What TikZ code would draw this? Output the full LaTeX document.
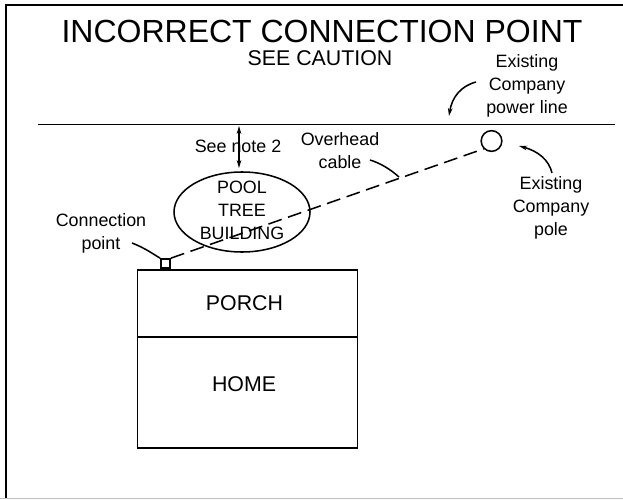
\documentclass[tikz,border=0pt]{standalone}
\usepackage{fontspec}
\setmainfont{Liberation Sans}
\usetikzlibrary{arrows.meta,shapes.geometric}
\tikzset{
  x=0.75pt,y=-0.75pt,
  ln/.style={draw=black,line width=1.15pt},
  thin ln/.style={draw=black,line width=0.9pt},
  lbl/.style={inner sep=0pt,align=center,font=\fontsize{13.4pt}{17.2pt}\selectfont,text=black},
  big/.style={inner sep=0pt,font=\fontsize{24pt}{26pt}\selectfont,text=black},
  mid/.style={inner sep=0pt,font=\fontsize{16pt}{18pt}\selectfont,text=black},
  tip/.style={-{Stealth[length=6pt,width=3.5pt]}},
  room/.style={ln,rectangle,inner sep=0pt,minimum width=165pt,anchor=north west},
}
\begin{document}
\begin{tikzpicture}
\useasboundingbox (0,0) rectangle (623,499);
\draw[line width=1.4pt] (6,499) -- (6,5) -- (623,5);
\draw[draw=black!25,line width=1pt] (0,498.5) -- (623,498.5);
\node[big] (title) at (322,31) {INCORRECT CONNECTION POINT};
\node[mid] (sub) at (320,58) {SEE CAUTION};
\coordinate (lineL) at (38,124.5);
\coordinate (lineR) at (615,124.5);
\draw[ln] (lineL) -- (lineR);
\node[lbl] (plabel) at (527,86) {Existing\\Company\\power line};
\node[lbl] (note) at (238,146) {See note 2};
\node[lbl] (ocable) at (340,151) {Overhead\\cable};
\node[lbl] (conn) at (101,233) {Connection\\point};
\node[lbl] (polelbl) at (551,208) {Existing\\Company\\pole};
\node[ellipse,ln,minimum width=102pt,minimum height=60pt,inner sep=0pt] (obst) at (242,212) {};
\node[lbl] (pool) at (242,210) {POOL\\TREE\\BUILDING};
\node[room,minimum height=50pt] (porch) at (136.5,269) {};
\node[room,minimum height=83.5pt] (home) at (136.5,336) {};
\node[mid] at (244.5,303) {PORCH};
\node[mid] at (244,384) {HOME};
\node[circle,ln,minimum size=15.5pt,inner sep=0pt] (pole) at (491.5,141) {};
\node[rectangle,ln,minimum size=7pt,inner sep=0pt,anchor=south] (cp) at (165.5,269) {};
\draw[ln,dash pattern=on 10.5pt off 5pt] (cp.north east) -- (pole.south west);
\coordinate (ntop) at (239,126);
\coordinate (nbot) at (239,168);
\draw[thin ln,{Stealth[length=6pt,width=3.5pt]}-{Stealth[length=6pt,width=3.5pt]}] (ntop) -- (nbot);
\coordinate (cs) at (132,243);
\draw[ln] (cs) .. controls (145,248) and (153,254) .. (cp.north west);
\coordinate (os) at (370,160);
\coordinate (oe) at (399,177);
\draw[ln] (os) .. controls (380,163) and (390,169) .. (oe);
\coordinate (ps) at (476,82);
\coordinate (pe) at (449,116);
\draw[ln,tip] (ps) .. controls (461,86) and (452,97) .. (pe);
\coordinate (es) at (552,173);
\coordinate (ee) at (519,146);
\draw[ln,tip] (es) .. controls (549,160) and (538,151) .. (ee);
\end{tikzpicture}
\end{document}
